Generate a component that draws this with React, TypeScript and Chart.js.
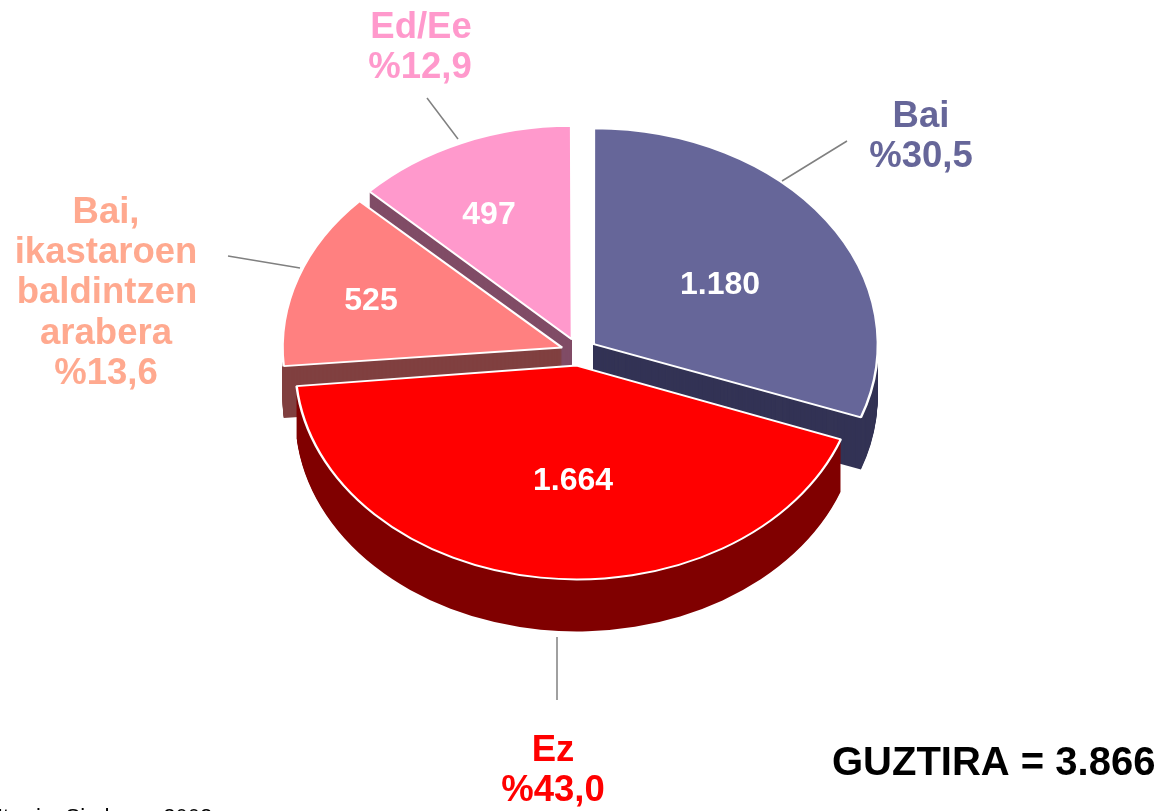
import React, { useEffect, useRef } from "react";
import { Chart, registerables } from "chart.js";

Chart.register(...registerables);

const categories = ["Bai", "Ez", "Bai, ikastaroen baldintzen arabera", "Ed/Ee"];
const counts = [1180, 1664, 525, 497];
const topColors = ["#666699", "#FF0000", "#FF8080", "#FF99CC"];
const wallColors = ["#333355", "#800000", "#804040", "#804C66"];
const valueLabels = ["1.180", "1.664", "525", "497"];
const drawOrder = [3, 0, 2, 1];
const radiusTrim = [0, 12, 8, 7];
const FONT = '"Liberation Sans", Arial, sans-serif';
const TILT = 0.76;
const CENTER_Y = 352;
const DEPTH = 52;

const texts: [string, number, number, string, number][] = [
  ["Bai", 921, 117, "#666699", 36.5],
  ["%30,5", 921, 157, "#666699", 36.5],
  ["Ed/Ee", 421, 28, "#FF99CC", 36.5],
  ["%12,9", 420, 68, "#FF99CC", 36.5],
  ["Bai,", 106, 213, "#FFA98F", 36.5],
  ["ikastaroen", 106, 253, "#FFA98F", 36.5],
  ["baldintzen", 107, 293, "#FFA98F", 36.5],
  ["arabera", 106, 334, "#FFA98F", 36.5],
  ["%13,6", 106, 374, "#FFA98F", 36.5],
  ["Ez", 553, 751, "#FF0000", 36.5],
  ["%43,0", 553, 791, "#FF0000", 36.5],
];
const leaders: [number, number, number, number][] = [
  [782, 181, 847, 141],
  [458, 139, 427, 98],
  [300, 268, 228, 256],
  [557, 637, 557, 700],
];
const valuePositions = [
  [720, 285],
  [573, 481],
  [371, 301],
  [489, 215],
];

const pie3d = {
  id: "pie3d",
  beforeDatasetsDraw(chart: any) {
    const ctx = chart.ctx;
    const arcs = chart.getDatasetMeta(0).data;
    ctx.save();
    for (const i of drawOrder) {
      const arc = arcs[i];
      const saved = arc.options;
      const savedRadius = arc.outerRadius;
      arc.outerRadius = savedRadius - radiusTrim[i];
      ctx.save();
      ctx.translate(arc.x, CENTER_Y);
      ctx.scale(1, TILT);
      ctx.translate(-arc.x, -arc.y);
      arc.options = { ...saved, backgroundColor: wallColors[i], borderWidth: 0 };
      for (let d = DEPTH; d >= 1; d--) {
        ctx.save();
        ctx.translate(0, d / TILT);
        arc.draw(ctx);
        ctx.restore();
      }
      arc.options = saved;
      arc.draw(ctx);
      ctx.restore();
      arc.outerRadius = savedRadius;
    }
    ctx.restore();
    return false;
  },
  afterDraw(chart: any) {
    const ctx = chart.ctx;
    ctx.save();
    ctx.strokeStyle = "#808080";
    ctx.lineWidth = 1.5;
    for (const [x1, y1, x2, y2] of leaders) {
      ctx.beginPath();
      ctx.moveTo(x1, y1);
      ctx.lineTo(x2, y2);
      ctx.stroke();
    }
    ctx.textAlign = "center";
    ctx.textBaseline = "middle";
    ctx.font = `bold 32px ${FONT}`;
    ctx.fillStyle = "#FFFFFF";
    valueLabels.forEach((label, i) => {
      ctx.fillText(label, valuePositions[i][0], valuePositions[i][1]);
    });
    for (const [t, x, y, c, s] of texts) {
      ctx.font = `bold ${s}px ${FONT}`;
      ctx.fillStyle = c;
      ctx.fillText(t, x, y);
    }
    ctx.font = `bold 40px ${FONT}`;
    ctx.fillStyle = "#000000";
    ctx.textAlign = "left";
    ctx.fillText("GUZTIRA = 3.866", 832, 764);
    ctx.font = `22px ${FONT}`;
    ctx.textBaseline = "alphabetic";
    ctx.fillText("Iturria: Siadeco,  2002", -3, 824);
    ctx.restore();
  },
};

export default function App() {
  const ref = useRef<HTMLCanvasElement>(null);
  useEffect(() => {
    document.body.style.margin = "0";
    const chart = new Chart(ref.current!, {
      type: "pie",
      data: {
        labels: categories,
        datasets: [
          {
            data: counts,
            backgroundColor: topColors,
            borderColor: "#FFFFFF",
            borderWidth: 2.5,
            offset: 72,
            radius: 283,
          } as any,
        ],
      },
      options: {
        animation: false,
        responsive: false,
        layout: { padding: 0 },
        plugins: { legend: { display: false }, tooltip: { enabled: false } },
      },
      plugins: [pie3d],
    });
    return () => chart.destroy();
  }, []);
  return <canvas ref={ref} width={1158} height={811} style={{ display: "block" }} />;
}
